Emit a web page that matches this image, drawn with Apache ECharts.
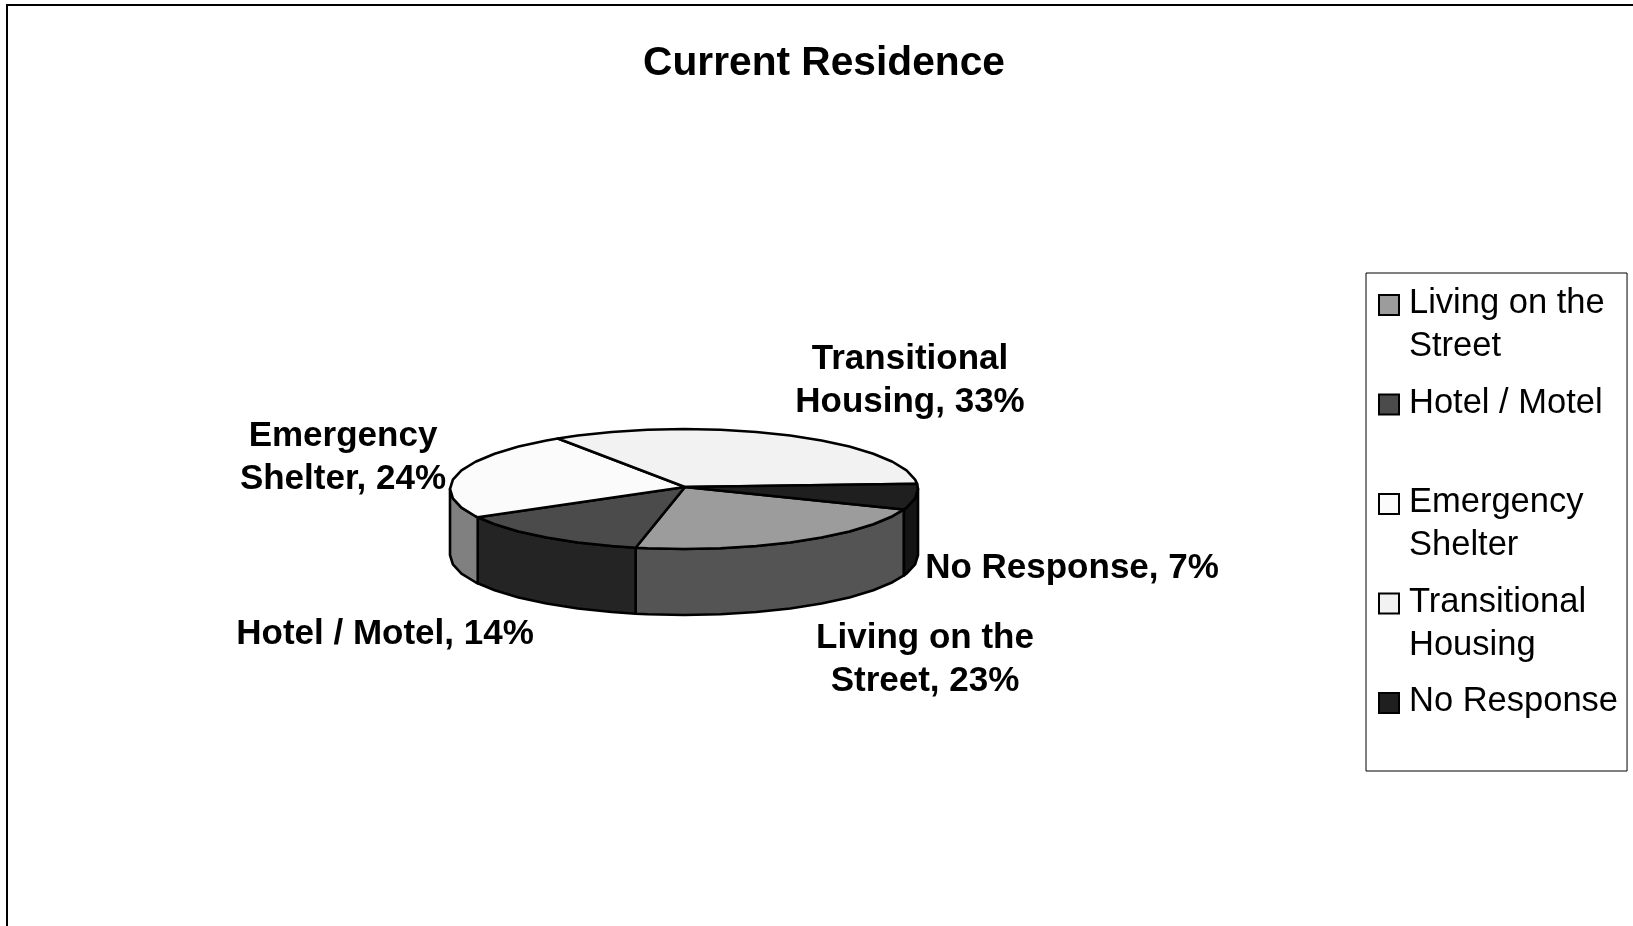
<!DOCTYPE html>
<html><head><meta charset="utf-8">
<style>html,body{margin:0;padding:0;background:#fff}#c{width:1633px;height:926px}</style>
<script src="https://cdn.jsdelivr.net/npm/echarts@6/dist/echarts.min.js"></script>
</head><body><div id="c"></div>
<script>
const titleText = 'Current Residence';
const categories = ['Living on the Street', 'Hotel / Motel', 'Emergency Shelter', 'Transitional Housing', 'No Response'];
const values = [23, 14, 24, 33, 7];
const labelLines = [['Living on the', 'Street, 23%'], ['Hotel / Motel, 14%'], ['Emergency', 'Shelter, 24%'], ['Transitional', 'Housing, 33%'], ['No Response, 7%']];
const legendLines = {'Living on the Street':'Living on the\nStreet','Hotel / Motel':'Hotel / Motel\n ','Emergency Shelter':'Emergency\nShelter','Transitional Housing':'Transitional\nHousing','No Response':'No Response\n '};

// styling and layout
const topColors = ['#9c9c9c', '#4b4b4b', '#fbfbfb', '#f2f2f2', '#1f1f1f'];
const sideColors = ['#545454', '#242424', '#808080', '#c0c0c0', '#141414'];
const labelCenters = [[925, 660], [385, 634], [343, 458], [910, 381], [1072, 568]];
const pie = {cx: 684, cy: 489, rx: 234, ry: 60, depth: 66, facet: 9, start: -5};
const font = 'Liberation Sans';

const total = values.reduce((a, b) => a + b, 0);
// No Response starts the clockwise order on screen, then the other categories follow
const order = [4, 0, 1, 2, 3];
const spans = {};
let acc = pie.start;
order.forEach(i => { const s = acc; acc += values[i] / total * 360; spans[i] = [s, acc]; });

function pt(deg, dy) {
  const r = deg * Math.PI / 180;
  return [pie.cx + pie.rx * Math.cos(r), pie.cy + pie.ry * Math.sin(r) + (dy || 0)];
}
function arcAngles(a, b) {
  const out = [a];
  let k = Math.ceil(a / pie.facet + 1e-6) * pie.facet;
  for (; k < b - 1e-6; k += pie.facet) out.push(k);
  out.push(b);
  return out;
}
const lineStyle = {stroke: '#000', lineWidth: 2.6, lineJoin: 'round'};

function makeRender(i) {
  return function () {
    const [a, b] = spans[i];
    const children = [];
    const wa = Math.max(a, 0), wb = Math.min(b, 180);
    if (wb > wa) {
      const as = arcAngles(wa, wb);
      const upper = as.map(d => pt(d));
      const lower = as.slice().reverse().map(d => pt(d, pie.depth));
      children.push({type: 'polygon', z2: 1, shape: {points: upper.concat(lower)}, style: Object.assign({fill: sideColors[i]}, lineStyle)});
    }
    const rim = arcAngles(a, b).map(d => pt(d));
    children.push({type: 'polygon', z2: 2, shape: {points: [[pie.cx + 1, pie.cy - 2]].concat(rim)}, style: Object.assign({fill: topColors[i]}, lineStyle)});
    children.push({type: 'text', z2: 3, style: {
      x: labelCenters[i][0], y: labelCenters[i][1], text: labelLines[i].join('\n'),
      fill: '#000', font: 'bold 35px "' + font + '"', align: 'center', verticalAlign: 'middle', lineHeight: 43
    }});
    return {type: 'group', children};
  };
}

const series = categories.map((name, i) => ({
  type: 'custom', name, coordinateSystem: 'none', silent: true, animation: false,
  itemStyle: {color: topColors[i]},
  data: [values[i]],
  renderItem: makeRender(i)
}));

const chart = echarts.init(document.getElementById('c'), null, {renderer: 'canvas'});
chart.setOption({
  backgroundColor: '#fff',
  animation: false,
  title: {text: titleText, left: 819, top: 38, textAlign: 'center',
    textStyle: {fontFamily: font, fontWeight: 'bold', fontSize: 40.7, color: '#000'}},
  legend: {
    orient: 'vertical', left: 1366, top: 273, selectedMode: false,
    padding: [8, 9, 4, 12], itemGap: 11.5, itemWidth: 25, itemHeight: 86,
    icon: 'path://M0 0M0 13H20V33H0ZM25 86',
    borderColor: '#000', borderWidth: 1, backgroundColor: '#fff',
    itemStyle: {borderColor: '#000', borderWidth: 2},
    formatter: n => legendLines[n],
    textStyle: {fontFamily: font, fontSize: 34.5, color: '#000', lineHeight: 43},
    data: categories
  },
  graphic: [{type: 'polyline', silent: true, shape: {points: [[7, 926], [7, 5], [1633, 5]]},
    style: {stroke: '#000', lineWidth: 2, fill: null}}],
  series
});
</script></body></html>
